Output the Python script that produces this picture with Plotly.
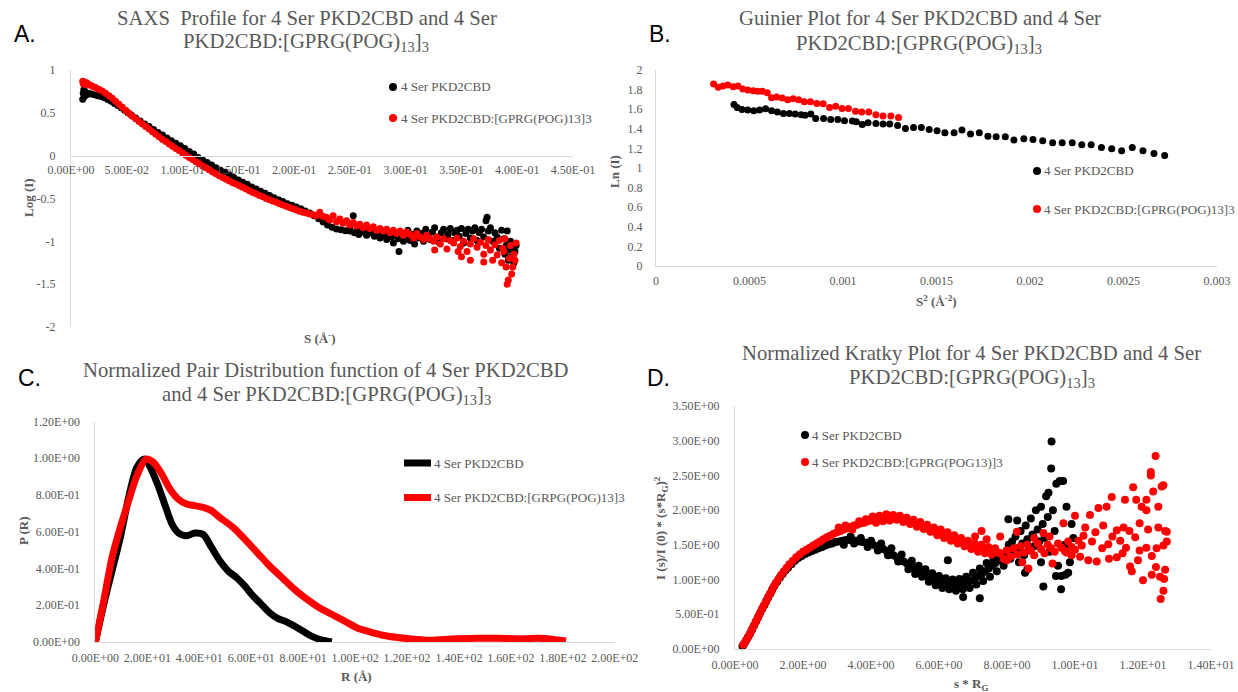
import plotly.graph_objects as go

W, H = 1238, 692


def fx(p):
    return p / W


def fy(p):
    return 1 - p / H


GRAY = "#595959"
AXIS_LINE = "#d9d9d9"
SERIF = "Liberation Serif"
SANS = "Liberation Sans"
BLACK = "#000000"
RED = "#ff0000"

# ---------------- data ----------------
NAME_APO = "4 Ser PKD2CBD"
NAME_A_CPLX = "4 Ser PKD2CBD:[GPRG(POG)13]3"
NAME_C_CPLX = "4 Ser PKD2CBD:[GRPG(POG)13]3"
NAME_D_CPLX = "4 Ser PKD2CBD:[GPRG(POG13)]3"

# Panel A: SAXS profile (s, log I)
A_BLACK = [
    (0.0105, 0.66), (0.011, 0.73), (0.0115, 0.77), (0.012, 0.69), (0.013, 0.745), (0.014, 0.71),
    (0.016, 0.725), (0.018, 0.72), (0.021, 0.71), (0.024, 0.70), (0.027, 0.69), (0.030, 0.675),
    (0.033, 0.655), (0.036, 0.635), (0.039, 0.61), (0.042, 0.585), (0.045, 0.56), (0.048, 0.53),
    (0.051, 0.50), (0.054, 0.475), (0.058, 0.44), (0.062, 0.405), (0.066, 0.37), (0.070, 0.34),
    (0.074, 0.305), (0.078, 0.27), (0.082, 0.24), (0.086, 0.205), (0.090, 0.175), (0.094, 0.145),
    (0.098, 0.115), (0.102, 0.085), (0.106, 0.05), (0.110, 0.02), (0.114, -0.02), (0.118, -0.05),
    (0.122, -0.08), (0.126, -0.11), (0.130, -0.14), (0.134, -0.17), (0.138, -0.195), (0.142, -0.225),
    (0.146, -0.255), (0.150, -0.285), (0.154, -0.31), (0.158, -0.335), (0.162, -0.365), (0.166, -0.39),
    (0.170, -0.415), (0.174, -0.44), (0.178, -0.465), (0.182, -0.49), (0.186, -0.515), (0.190, -0.535),
    (0.194, -0.56), (0.198, -0.58), (0.202, -0.60), (0.206, -0.62), (0.210, -0.645), (0.214, -0.67),
    (0.218, -0.70), (0.222, -0.735), (0.226, -0.775), (0.230, -0.81), (0.234, -0.835), (0.238, -0.855),
    (0.242, -0.865), (0.246, -0.875),
    (0.250, -0.88), (0.250, -0.84), (0.253, -0.70), (0.254, -0.90), (0.257, -0.87), (0.258, -0.92),
    (0.261, -0.89), (0.263, -0.86), (0.265, -0.93), (0.268, -0.90), (0.270, -0.88), (0.272, -0.94),
    (0.275, -0.91), (0.277, -0.96), (0.279, -0.89), (0.281, -0.93), (0.283, -0.98), (0.285, -0.90),
    (0.287, -0.95), (0.289, -1.02), (0.291, -0.92), (0.293, -0.97), (0.294, -1.12), (0.296, -0.90),
    (0.298, -1.00), (0.300, -0.94), (0.302, -0.87), (0.304, -0.99), (0.306, -0.92), (0.308, -1.03),
    (0.310, -0.88), (0.312, -0.96), (0.314, -0.91), (0.316, -1.00), (0.318, -0.86), (0.320, -0.94),
    (0.322, -0.98), (0.324, -0.89), (0.326, -0.84), (0.328, -0.95), (0.330, -1.01), (0.332, -0.90),
    (0.334, -0.86), (0.336, -0.97), (0.338, -0.92), (0.340, -0.85), (0.342, -0.99), (0.344, -0.90),
    (0.346, -0.87), (0.348, -0.94), (0.350, -0.85), (0.352, -1.02), (0.354, -0.91), (0.356, -0.86),
    (0.358, -0.96), (0.360, -0.88), (0.362, -0.84), (0.364, -0.99), (0.366, -0.90), (0.368, -0.86),
    (0.370, -0.95), (0.372, -0.76), (0.373, -0.72), (0.374, -0.88), (0.376, -0.84), (0.378, -1.00),
    (0.380, -0.90), (0.382, -0.95), (0.384, -1.08), (0.386, -0.87), (0.388, -0.97), (0.389, -1.15),
    (0.390, -1.05), (0.391, -0.88), (0.392, -1.22), (0.393, -1.10), (0.394, -1.00), (0.395, -1.18),
    (0.396, -1.08), (0.397, -1.25), (0.398, -1.12), (0.399, -1.05),
]
A_RED = [
    (0.0105, 0.87), (0.011, 0.84), (0.012, 0.86), (0.013, 0.83), (0.014, 0.85), (0.016, 0.83),
    (0.018, 0.82), (0.020, 0.805), (0.022, 0.795), (0.025, 0.775), (0.028, 0.755), (0.031, 0.73),
    (0.034, 0.70), (0.037, 0.67), (0.040, 0.635), (0.043, 0.60), (0.046, 0.565), (0.049, 0.53),
    (0.052, 0.495), (0.055, 0.46), (0.058, 0.43), (0.061, 0.40), (0.064, 0.37), (0.067, 0.34),
    (0.070, 0.31), (0.073, 0.28), (0.076, 0.25), (0.079, 0.22), (0.082, 0.19), (0.085, 0.165),
    (0.088, 0.135), (0.091, 0.11), (0.094, 0.085), (0.097, 0.06), (0.100, 0.03), (0.103, 0.005),
    (0.106, -0.02), (0.109, -0.045), (0.112, -0.07), (0.115, -0.095), (0.118, -0.12), (0.121, -0.14),
    (0.124, -0.165), (0.127, -0.19), (0.130, -0.21), (0.133, -0.235), (0.136, -0.255), (0.139, -0.275),
    (0.142, -0.295), (0.145, -0.315), (0.148, -0.33), (0.151, -0.35), (0.154, -0.37), (0.157, -0.39),
    (0.160, -0.41), (0.163, -0.43), (0.166, -0.445), (0.169, -0.465), (0.172, -0.48), (0.175, -0.50),
    (0.178, -0.515), (0.181, -0.53), (0.184, -0.545), (0.187, -0.56), (0.190, -0.575), (0.193, -0.59),
    (0.196, -0.605), (0.199, -0.62), (0.202, -0.635), (0.205, -0.65), (0.208, -0.66), (0.211, -0.67),
    (0.214, -0.68), (0.217, -0.69), (0.220, -0.70), (0.223, -0.66), (0.226, -0.71), (0.229, -0.72),
    (0.232, -0.75), (0.235, -0.70), (0.238, -0.77), (0.241, -0.74), (0.244, -0.79), (0.247, -0.76),
    (0.250, -0.81), (0.253, -0.78), (0.256, -0.82), (0.259, -0.80), (0.262, -0.84), (0.265, -0.81),
    (0.268, -0.85), (0.271, -0.83), (0.274, -0.87), (0.277, -0.85), (0.280, -0.88), (0.283, -0.86),
    (0.286, -0.90), (0.289, -0.87), (0.292, -0.91), (0.295, -0.88), (0.298, -0.93), (0.301, -0.89),
    (0.304, -0.92), (0.307, -0.96), (0.310, -0.91), (0.313, -0.95), (0.316, -0.98), (0.319, -0.93),
    (0.322, -0.97), (0.325, -1.00), (0.326, -1.10), (0.328, -0.95), (0.331, -1.03), (0.334, -0.97),
    (0.337, -1.09), (0.340, -0.99), (0.343, -1.02), (0.346, -0.96), (0.347, -1.12), (0.349, -1.06),
    (0.350, -1.18), (0.352, -1.00), (0.355, -1.12), (0.358, -1.22), (0.358, -1.03), (0.361, -0.97),
    (0.364, -1.07), (0.367, -1.01), (0.370, -1.15), (0.370, -1.24), (0.372, -1.05), (0.374, -0.98),
    (0.376, -1.10), (0.378, -1.22), (0.380, -1.04), (0.382, -1.16), (0.384, -0.99), (0.386, -1.25),
    (0.387, -1.08), (0.388, -1.12), (0.389, -0.97), (0.390, -1.30), (0.391, -1.50), (0.392, -1.45),
    (0.393, -1.20), (0.394, -1.05), (0.395, -1.38), (0.396, -1.30), (0.397, -1.15), (0.398, -1.22),
    (0.399, -1.02),
]

# Panel B: Guinier plot (s^2, ln I)
B_BLACK = [
    (0.000417, 1.649), (0.000434, 1.618), (0.000460, 1.598), (0.000491, 1.591), (0.000523, 1.584),
    (0.000554, 1.591), (0.000586, 1.605), (0.000618, 1.584), (0.000649, 1.571), (0.000681, 1.557),
    (0.000713, 1.557), (0.000744, 1.550), (0.000776, 1.543), (0.000797, 1.537), (0.000828, 1.550),
    (0.000854, 1.506), (0.000896, 1.506), (0.000934, 1.496), (0.000972, 1.496), (0.001008, 1.482),
    (0.001050, 1.479), (0.001071, 1.472), (0.001103, 1.445), (0.001134, 1.462), (0.001176, 1.455),
    (0.001214, 1.448), (0.001250, 1.448), (0.001292, 1.434), (0.001334, 1.404), (0.001377, 1.414),
    (0.001419, 1.414), (0.001461, 1.394), (0.001503, 1.380), (0.001545, 1.359), (0.001594, 1.359),
    (0.001636, 1.387), (0.001682, 1.346), (0.001729, 1.359), (0.001775, 1.325), (0.001819, 1.319),
    (0.001868, 1.319), (0.001914, 1.285), (0.001967, 1.298), (0.002016, 1.291), (0.002068, 1.278),
    (0.002121, 1.257), (0.002172, 1.257), (0.002226, 1.257), (0.002277, 1.237), (0.002327, 1.237),
    (0.002382, 1.210), (0.002437, 1.196), (0.002490, 1.176), (0.002547, 1.210), (0.002604, 1.176),
    (0.002663, 1.148), (0.002720, 1.128),
]
B_RED = [
    (0.000308, 1.857), (0.000333, 1.823), (0.000358, 1.837), (0.000384, 1.847), (0.000413, 1.830),
    (0.000438, 1.837), (0.000464, 1.806), (0.000491, 1.796), (0.000519, 1.789), (0.000544, 1.782),
    (0.000569, 1.782), (0.000595, 1.768), (0.000618, 1.717), (0.000645, 1.724), (0.000675, 1.714),
    (0.000704, 1.697), (0.000734, 1.707), (0.000763, 1.697), (0.000793, 1.676), (0.000826, 1.676),
    (0.000860, 1.659), (0.000894, 1.656), (0.000928, 1.618), (0.000961, 1.629), (0.000995, 1.608),
    (0.001029, 1.608), (0.001067, 1.578), (0.001100, 1.571), (0.001138, 1.571), (0.001176, 1.543),
    (0.001214, 1.530), (0.001256, 1.530), (0.001297, 1.516),
]

# Panel C: normalized pair distribution (R, P(R))
C_BLACK = [
    (0.0, 0.0), (3.2, 0.205), (6.4, 0.387), (9.6, 0.569), (12.8, 0.787), (16.0, 0.951),
    (18.8, 0.996), (20.8, 0.96), (23.9, 0.86), (27.1, 0.733), (29.5, 0.642), (31.9, 0.595),
    (35.1, 0.578), (38.3, 0.593), (41.5, 0.585), (44.7, 0.515), (47.9, 0.442), (51.1, 0.387),
    (54.3, 0.351), (57.5, 0.305), (60.7, 0.251), (63.9, 0.205), (67.0, 0.16), (70.2, 0.129),
    (73.4, 0.111), (76.6, 0.087), (79.8, 0.06), (83.0, 0.033), (86.2, 0.015), (91.0, 0.0),
]
C_RED = [
    (0.0, 0.0), (3.2, 0.224), (6.4, 0.46), (9.6, 0.624), (12.8, 0.769), (16.0, 0.905),
    (19.5, 0.996), (22.3, 0.978), (25.5, 0.915), (28.7, 0.833), (31.9, 0.778), (35.1, 0.751),
    (38.3, 0.742), (41.5, 0.733), (44.7, 0.715), (47.9, 0.678), (53.0, 0.624), (57.5, 0.56),
    (62.3, 0.487), (67.0, 0.415), (71.8, 0.351), (76.6, 0.287), (81.4, 0.233), (86.2, 0.187),
    (91.0, 0.151), (95.8, 0.115), (100.6, 0.078), (105.4, 0.056), (110.1, 0.038), (116.5, 0.024),
    (122.9, 0.015), (127.7, 0.009), (135.7, 0.015), (146.9, 0.02), (154.8, 0.02), (164.4, 0.018),
    (170.8, 0.02), (175.6, 0.015), (181.2, 0.005),
]

# Panel D: normalized Kratky plot (s*Rg, I(s)/I(0)*(s*Rg)^2)
D_BLACK = [
    (0.22, 0.04), (0.26, 0.07), (0.32, 0.12), (0.38, 0.17), (0.44, 0.22), (0.50, 0.28), (0.56, 0.34),
    (0.62, 0.40), (0.68, 0.46), (0.74, 0.52), (0.80, 0.58), (0.86, 0.63), (0.92, 0.69), (0.98, 0.75),
    (1.04, 0.80), (1.10, 0.86), (1.16, 0.91), (1.24, 0.97), (1.32, 1.03), (1.40, 1.08), (1.48, 1.13),
    (1.56, 1.17), (1.66, 1.22), (1.76, 1.27), (1.86, 1.31), (1.96, 1.34), (2.06, 1.37), (2.16, 1.39),
    (2.26, 1.41), (2.36, 1.43), (2.46, 1.45), (2.56, 1.47), (2.66, 1.49), (2.76, 1.51), (2.86, 1.52),
    (2.96, 1.54), (3.06, 1.55), (3.16, 1.56), (3.26, 1.57), (3.36, 1.57), (3.46, 1.57), (3.56, 1.56),
    (3.66, 1.55), (3.76, 1.54), (3.86, 1.53), (3.96, 1.52), (4.06, 1.50), (4.16, 1.48), (4.26, 1.46),
    (4.36, 1.44), (4.46, 1.41), (4.56, 1.38), (4.66, 1.35), (4.76, 1.32), (4.86, 1.29), (4.96, 1.26),
    (5.06, 1.23), (5.16, 1.20), (5.26, 1.17), (5.36, 1.14), (5.46, 1.11), (5.56, 1.08), (5.66, 1.05),
    (5.76, 1.02), (5.86, 1.00), (5.96, 0.98), (6.06, 0.96), (6.16, 0.95), (6.26, 0.94), (6.36, 0.93),
    (6.46, 0.93), (6.56, 0.93), (6.66, 0.94), (6.76, 0.95), (6.86, 0.97), (6.96, 0.99), (7.06, 1.02),
    (7.16, 1.05), (7.26, 1.08), (7.36, 1.12), (7.46, 1.16), (7.56, 1.20), (7.66, 1.24), (7.76, 1.28),
    (7.86, 1.32), (7.96, 1.36),
    (3.2, 1.50), (3.4, 1.62), (3.5, 1.52), (3.7, 1.60), (3.9, 1.47), (4.0, 1.56), (4.2, 1.42),
    (4.3, 1.52), (4.5, 1.35), (4.6, 1.45), (4.8, 1.26), (4.9, 1.36), (5.1, 1.15), (5.2, 1.27),
    (5.3, 1.08), (5.4, 1.20), (5.5, 1.04), (5.6, 1.15), (5.7, 0.97), (5.8, 1.09), (5.9, 0.92),
    (6.0, 1.05), (6.1, 0.88), (6.2, 1.02), (6.3, 0.86), (6.4, 1.00), (6.5, 0.84), (6.6, 1.01),
    (6.7, 0.86), (6.8, 1.04), (6.9, 0.88), (7.0, 1.10), (7.1, 0.93), (7.2, 1.16), (7.3, 0.98),
    (7.4, 1.24), (7.5, 1.04), (7.6, 1.30), (7.7, 1.12), (7.8, 1.38), (7.9, 1.20),
    (6.26, 1.28), (6.71, 0.75), (7.20, 0.73), (9.07, 0.90), (9.59, 0.86),
    (8.0, 1.42), (8.04, 1.87), (8.05, 1.50), (8.1, 1.30), (8.15, 1.55), (8.2, 1.38), (8.25, 1.62),
    (8.3, 1.45), (8.35, 1.25), (8.4, 1.70), (8.45, 1.52), (8.5, 1.35), (8.55, 1.78), (8.6, 1.58),
    (8.65, 1.42), (8.7, 1.88), (8.75, 1.65), (8.8, 1.48), (8.85, 2.00), (8.9, 1.72), (8.95, 1.55),
    (9.0, 2.05), (9.05, 1.80), (9.1, 1.60), (9.15, 2.20), (9.2, 1.90), (9.25, 1.40), (9.3, 2.60),
    (9.31, 2.99), (9.35, 2.00), (9.4, 1.70), (9.45, 2.38), (9.5, 1.20), (9.55, 2.42), (9.6, 1.05),
    (9.65, 2.42), (9.7, 1.50), (9.75, 2.05), (9.8, 1.10), (9.85, 1.25), (9.9, 1.80), (9.95, 1.60),
    (9.0, 1.25), (8.6, 1.15), (8.3, 1.85), (9.22, 2.25), (9.44, 1.05), (9.72, 1.07), (8.53, 1.10),
]
D_RED = [
    (0.24, 0.06), (0.30, 0.10), (0.36, 0.15), (0.42, 0.20), (0.48, 0.26), (0.54, 0.32), (0.60, 0.38),
    (0.66, 0.44), (0.72, 0.50), (0.78, 0.56), (0.84, 0.62), (0.90, 0.67), (0.96, 0.73), (1.02, 0.79),
    (1.08, 0.84), (1.14, 0.90), (1.20, 0.95), (1.28, 1.01), (1.36, 1.07), (1.44, 1.12), (1.52, 1.17),
    (1.60, 1.22), (1.70, 1.27), (1.80, 1.32), (1.90, 1.36), (2.00, 1.40), (2.10, 1.43), (2.20, 1.46),
    (2.30, 1.49), (2.40, 1.52), (2.50, 1.55), (2.60, 1.58), (2.70, 1.61), (2.80, 1.63), (2.90, 1.66),
    (3.00, 1.68), (3.10, 1.70), (3.20, 1.72), (3.30, 1.74), (3.40, 1.76), (3.50, 1.78), (3.60, 1.79),
    (3.70, 1.81), (3.80, 1.82), (3.90, 1.84), (4.00, 1.85), (4.10, 1.86), (4.20, 1.87), (4.30, 1.88),
    (4.40, 1.885), (4.50, 1.89), (4.60, 1.89), (4.70, 1.89), (4.80, 1.88), (4.90, 1.87), (5.00, 1.86),
    (5.10, 1.84), (5.20, 1.83), (5.30, 1.81), (5.40, 1.79), (5.50, 1.77), (5.60, 1.75), (5.70, 1.73),
    (5.80, 1.71), (5.90, 1.69), (6.00, 1.67), (6.10, 1.65), (6.20, 1.63), (6.30, 1.61), (6.40, 1.59),
    (6.50, 1.57), (6.60, 1.55), (6.70, 1.53), (6.80, 1.51), (6.90, 1.49), (7.00, 1.47), (7.10, 1.45),
    (7.20, 1.44), (7.30, 1.43), (7.40, 1.42), (7.50, 1.41), (7.60, 1.40), (7.70, 1.40),
    (3.05, 1.75), (3.25, 1.78), (3.45, 1.72), (3.65, 1.84), (3.85, 1.87), (4.05, 1.91), (4.15, 1.82),
    (4.25, 1.92), (4.35, 1.84), (4.45, 1.94), (4.55, 1.85), (4.65, 1.93), (4.75, 1.86), (4.85, 1.92),
    (4.95, 1.83), (5.05, 1.89), (5.15, 1.80), (5.25, 1.86), (5.35, 1.76), (5.45, 1.83), (5.55, 1.73),
    (5.65, 1.79), (5.75, 1.69), (5.85, 1.75), (5.95, 1.64), (6.05, 1.72), (6.15, 1.60), (6.25, 1.68),
    (6.35, 1.56), (6.45, 1.64), (6.55, 1.52), (6.65, 1.60), (6.75, 1.48), (6.85, 1.56), (6.95, 1.44),
    (7.05, 1.52), (7.15, 1.40), (7.25, 1.50), (7.35, 1.38), (7.45, 1.47), (7.55, 1.36), (7.65, 1.45),
    (7.8, 1.38), (7.9, 1.30), (8.0, 1.42), (8.1, 1.33), (8.2, 1.45), (8.3, 1.36), (8.4, 1.48),
    (8.5, 1.39), (8.6, 1.50), (8.7, 1.42), (8.8, 1.35), (8.9, 1.52), (9.0, 1.44), (9.1, 1.38),
    (9.2, 1.50), (9.3, 1.45), (9.4, 1.40), (9.5, 1.52), (9.6, 1.46), (9.7, 1.41), (9.8, 1.55),
    (9.9, 1.47), (10.0, 1.43), (10.1, 1.56), (10.2, 1.49),
    (7.25, 1.70), (7.06, 1.62), (8.29, 1.69), (8.63, 1.16), (9.07, 1.67), (9.34, 1.23), (9.66, 1.81),
    (10.0, 1.92), (9.75, 1.39), (8.0, 1.28), (8.45, 1.25), (7.8, 1.62), (7.4, 1.58), (8.8, 1.60),
    (9.25, 1.62), (9.9, 1.35),
    (10.15, 1.33), (10.39, 1.28), (10.64, 1.26), (10.44, 1.93), (10.69, 2.03), (10.93, 2.05),
    (11.08, 2.19), (11.47, 2.15), (11.71, 2.33), (11.23, 1.71), (11.23, 1.32), (11.43, 1.75),
    (11.62, 1.19), (11.67, 1.12), (12.0, 0.99), (11.8, 2.15), (11.96, 2.05), (12.1, 2.15),
    (12.23, 2.55), (12.23, 2.50), (12.37, 2.78), (12.30, 2.27), (12.55, 2.34), (12.60, 2.36),
    (12.45, 1.75), (12.65, 1.70), (12.60, 1.49), (12.26, 1.34), (12.38, 1.18), (12.5, 1.04),
    (12.65, 1.14), (12.62, 1.01), (12.6, 0.84), (12.52, 0.72), (12.26, 1.07), (12.40, 1.45),
    (12.1, 1.46), (11.9, 1.42), (11.5, 1.46), (10.98, 1.51), (10.83, 1.78), (10.60, 1.68),
    (10.25, 1.63), (11.9, 1.81), (12.1, 2.0), (11.77, 1.61), (11.33, 1.56), (12.7, 1.69),
    (12.7, 1.55), (10.5, 1.55), (10.8, 1.45), (11.1, 1.62), (11.4, 1.38), (11.6, 1.70),
    (11.0, 1.30), (10.3, 1.75), (11.85, 1.28), (12.15, 1.72), (12.45, 2.05),
]

# tick labels
A_XTICKS = [0, 0.05, 0.1, 0.15, 0.2, 0.25, 0.3, 0.35, 0.4, 0.45]
A_XTEXT = ["0.00E+00", "5.00E-02", "1.00E-01", "1.50E-01", "2.00E-01", "2.50E-01",
           "3.00E-01", "3.50E-01", "4.00E-01", "4.50E-01"]
A_YTICKS = [-2, -1.5, -1, -0.5, 0, 0.5, 1]
A_YTEXT = ["-2", "-1.5", "-1", "-0.5", "0", "0.5", "1"]
B_XTICKS = [0, 0.0005, 0.001, 0.0015, 0.002, 0.0025, 0.003]
B_XTEXT = ["0", "0.0005", "0.001", "0.0015", "0.002", "0.0025", "0.003"]
B_YTICKS = [0, 0.2, 0.4, 0.6, 0.8, 1, 1.2, 1.4, 1.6, 1.8, 2]
B_YTEXT = ["0", "0.2", "0.4", "0.6", "0.8", "1", "1.2", "1.4", "1.6", "1.8", "2"]
C_XTICKS = [0, 20, 40, 60, 80, 100, 120, 140, 160, 180, 200]
C_XTEXT = ["0.00E+00", "2.00E+01", "4.00E+01", "6.00E+01", "8.00E+01", "1.00E+02",
           "1.20E+02", "1.40E+02", "1.60E+02", "1.80E+02", "2.00E+02"]
C_YTICKS = [0, 0.2, 0.4, 0.6, 0.8, 1.0, 1.2]
C_YTEXT = ["0.00E+00", "2.00E-01", "4.00E-01", "6.00E-01", "8.00E-01", "1.00E+00", "1.20E+00"]
D_XTICKS = [0, 2, 4, 6, 8, 10, 12, 14]
D_XTEXT = ["0.00E+00", "2.00E+00", "4.00E+00", "6.00E+00", "8.00E+00", "1.00E+01",
           "1.20E+01", "1.40E+01"]
D_YTICKS = [0, 0.5, 1, 1.5, 2, 2.5, 3, 3.5]
D_YTEXT = ["0.00E+00", "5.00E-01", "1.00E+00", "1.50E+00", "2.00E+00", "2.50E+00",
           "3.00E+00", "3.50E+00"]

# ---------------- figure ----------------
fig = go.Figure()


def xs(series):
    return [p[0] for p in series]


def ys(series):
    return [p[1] for p in series]


def add_markers(series, xa, ya, color, name, size):
    fig.add_trace(go.Scatter(
        x=xs(series), y=ys(series), mode="markers", name=name,
        marker=dict(color=color, size=size, line=dict(width=0)),
        xaxis=xa, yaxis=ya, showlegend=False, cliponaxis=False, hoverinfo="skip"))


def add_line(series, xa, ya, color, name):
    fig.add_trace(go.Scatter(
        x=xs(series), y=ys(series), mode="lines", name=name,
        line=dict(color=color, width=7, shape="spline", smoothing=0.8),
        xaxis=xa, yaxis=ya, showlegend=False, cliponaxis=False, hoverinfo="skip"))


add_markers(A_BLACK, "x", "y", BLACK, NAME_APO, 7)
add_markers(A_RED, "x", "y", RED, NAME_A_CPLX, 7)
add_markers(B_BLACK, "x2", "y2", BLACK, NAME_APO, 7)
add_markers(B_RED, "x2", "y2", RED, NAME_A_CPLX, 7)
add_line(C_BLACK, "x3", "y3", BLACK, NAME_APO)
add_line(C_RED, "x3", "y3", RED, NAME_C_CPLX)
add_markers(D_BLACK, "x4", "y4", BLACK, NAME_APO, 8)
add_markers(D_RED, "x4", "y4", RED, NAME_D_CPLX, 8)

TICKFONT = dict(family=SERIF, size=12, color=GRAY)


def axis(**kw):
    base = dict(showgrid=False, zeroline=False, ticks="", tickfont=TICKFONT,
                showline=True, linecolor=AXIS_LINE, linewidth=1, tickmode="array",
                fixedrange=True)
    base.update(kw)
    return base


A_DOM_Y = [fy(327), fy(70)]
A_YRANGE = [-2, 1]
A_X_POS = A_DOM_Y[0] + (0 - A_YRANGE[0]) / (A_YRANGE[1] - A_YRANGE[0]) * (A_DOM_Y[1] - A_DOM_Y[0])

fig.update_layout(
    width=W, height=H, margin=dict(l=0, r=0, t=0, b=0, autoexpand=False),
    paper_bgcolor="white", plot_bgcolor="white", showlegend=False,
    font=dict(family=SERIF, color=GRAY),
    xaxis=axis(domain=[fx(71), fx(573)], range=[0, 0.45], anchor="free", position=A_X_POS,
               tickvals=A_XTICKS, ticktext=A_XTEXT, ticklabelstandoff=3),
    yaxis=axis(domain=A_DOM_Y, range=A_YRANGE, anchor="x",
               tickvals=A_YTICKS, ticktext=A_YTEXT, ticklabelstandoff=12),
    xaxis2=axis(domain=[fx(656), fx(1217)], range=[0, 0.003], anchor="y2",
                tickvals=B_XTICKS, ticktext=B_XTEXT, ticklabelstandoff=4),
    yaxis2=axis(domain=[fy(266), fy(70)], range=[0, 2], anchor="x2",
                tickvals=B_YTICKS, ticktext=B_YTEXT, ticklabelstandoff=10),
    xaxis3=axis(domain=[fx(95.4), fx(614.8)], range=[0, 200], anchor="y3",
                tickvals=C_XTICKS, ticktext=C_XTEXT, ticklabelstandoff=5),
    yaxis3=axis(domain=[fy(642), fy(421.5)], range=[0, 1.2], anchor="x3",
                tickvals=C_YTICKS, ticktext=C_YTEXT, ticklabelstandoff=12),
    xaxis4=axis(domain=[fx(735), fx(1211)], range=[0, 14], anchor="y4",
                tickvals=D_XTICKS, ticktext=D_XTEXT, ticklabelstandoff=5),
    yaxis4=axis(domain=[fy(649), fy(406)], range=[0, 3.5], anchor="x4",
                tickvals=D_YTICKS, ticktext=D_YTEXT, ticklabelstandoff=12),
)

annotations = []
shapes = []


def ann(text, x, y, size, family=SERIF, color=GRAY, angle=0, xanchor="center"):
    annotations.append(dict(text=text, x=fx(x), y=fy(y), xref="paper", yref="paper",
                            xanchor=xanchor, yanchor="middle", showarrow=False,
                            textangle=angle, font=dict(family=family, size=size, color=color)))


def legend_dot(x, y, color, d):
    shapes.append(dict(type="circle", xref="paper", yref="paper", xsizemode="pixel",
                       ysizemode="pixel", xanchor=fx(x), yanchor=fy(y),
                       x0=-d / 2, x1=d / 2, y0=-d / 2, y1=d / 2,
                       fillcolor=color, line=dict(width=0)))


def legend_line(x0, x1, y, color):
    shapes.append(dict(type="line", xref="paper", yref="paper", x0=fx(x0), x1=fx(x1),
                       y0=fy(y), y1=fy(y), line=dict(color=color, width=7)))


def legend_text(text, x, y):
    ann(text, x, y, 13, xanchor="left")


TITLE_SIZE = 20.7
SUBT = "PKD2CBD:[GPRG(POG)<sub>13</sub>]<sub>3</sub>"
# panel titles
ann("SAXS  Profile for 4 Ser PKD2CBD and 4 Ser", 307, 18, TITLE_SIZE)
ann(SUBT, 306, 43, TITLE_SIZE)
ann("Guinier Plot for 4 Ser PKD2CBD and 4 Ser", 920, 18, TITLE_SIZE)
ann(SUBT, 919, 44, TITLE_SIZE)
ann("Normalized Pair Distribution function of 4 Ser PKD2CBD", 326, 370, TITLE_SIZE)
ann("and 4 Ser " + SUBT, 326, 395, TITLE_SIZE)
ann("Normalized Kratky Plot for 4 Ser PKD2CBD and 4 Ser", 972, 353, TITLE_SIZE)
ann(SUBT, 972, 378, TITLE_SIZE)
# panel letters
ann("A.", 12, 34, 23, family=SANS, color="black", xanchor="left")
ann("B.", 647, 34, 23, family=SANS, color="black", xanchor="left")
ann("C.", 16, 378, 23, family=SANS, color="black", xanchor="left")
ann("D.", 645, 378, 23, family=SANS, color="black", xanchor="left")
# axis titles
ann("<b>Log (I)</b>", 28, 198, 13, angle=-90)
ann("<b>S (Å<sup>-</sup>)</b>", 320, 338, 13)
ann("<b>Ln (I)</b>", 614, 172, 13, angle=-90)
ann("<b>S<sup>2</sup> (Å<sup>-2</sup>)</b>", 936, 301, 13)
ann("<b>P (R)</b>", 23, 531, 13, angle=-90)
ann("<b>R (Å)</b>", 356, 676, 13)
ann("<b>I (s)/I (0) * (s*R<sub>G</sub>)<sup>2</sup></b>", 661, 528, 13, angle=-90)
ann("<b>s * R<sub>G</sub></b>", 972, 684, 13)

# legends
legend_dot(393, 87, BLACK, 8)
legend_text(NAME_APO, 399, 87)
legend_dot(393, 118, RED, 8)
legend_text(NAME_A_CPLX, 399, 118)

legend_dot(1037, 171, BLACK, 8)
legend_text(NAME_APO, 1042, 171)
legend_dot(1037, 209, RED, 8)
legend_text(NAME_A_CPLX, 1042, 209)

legend_line(404, 431, 463, BLACK)
legend_text(NAME_APO, 432, 463)
legend_line(404, 431, 497.5, RED)
legend_text(NAME_C_CPLX, 432, 497.5)

legend_dot(805, 435, BLACK, 8)
legend_text(NAME_APO, 810, 435)
legend_dot(805, 462, RED, 8)
legend_text(NAME_D_CPLX, 810, 462)

fig.update_layout(annotations=annotations, shapes=shapes)

fig.write_html(
    "out.html",
    post_script="document.body.style.margin='0px';"
                "document.body.style.overflow='hidden';"
                "document.documentElement.style.overflow='hidden';",
)
